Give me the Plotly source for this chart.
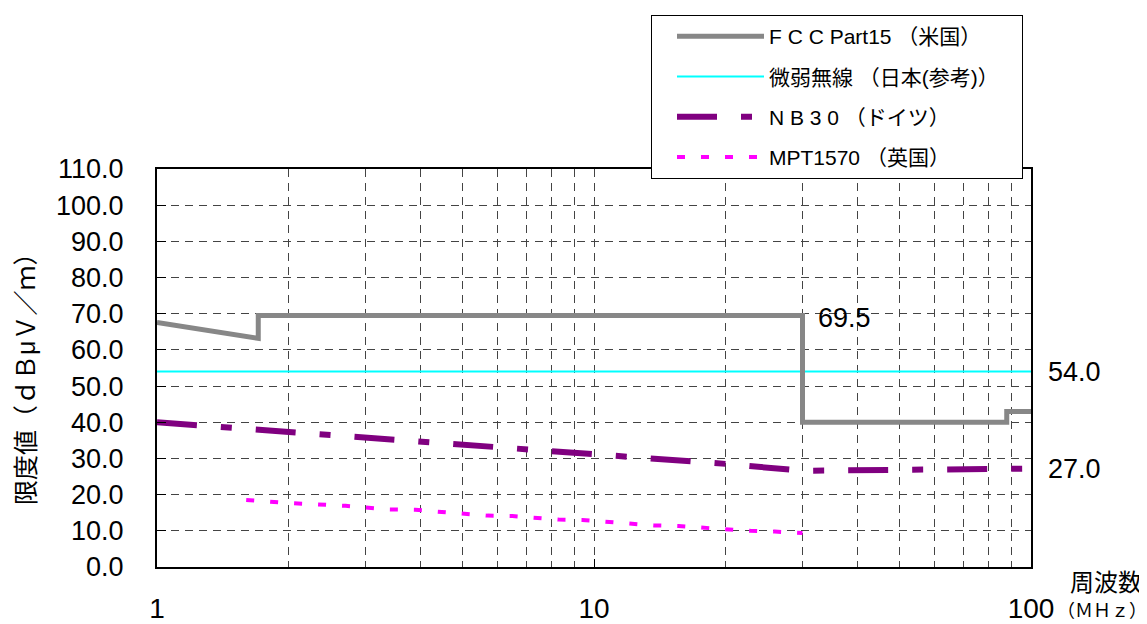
import plotly.graph_objects as go
import math

# ---- data ----
fcc_freq = [1, 1.705, 1.705, 30, 30, 88, 88, 100]
fcc_level = [67.6, 63.2, 69.5, 69.5, 40.0, 40.0, 43.0, 43.0]

jp_freq = [1, 100]
jp_level = [54.0, 54.0]

nb30_freq = [1, 2, 3, 5, 10, 20, 30, 50, 100]
nb30_level = [40.0, 37.4, 35.8, 33.8, 31.2, 28.5, 26.6, 26.8, 27.2]

mpt_freq = [1.6, 2.0, 2.7, 3.4, 3.9, 5.0, 5.7, 6.5, 8.3, 9.4, 12.2, 13.7, 15.6, 20.1, 22.8, 25.9, 30.0]
mpt_level = [18.5, 17.7, 16.9, 15.9, 15.8, 14.8, 14.2, 14.1, 13.1, 13.0, 12.0, 11.5, 11.3, 10.4, 10.0, 9.8, 9.4]

names = ["F C C Part15 （米国）", "微弱無線 （日本(参考)）" + "\u00a0" * 3, "N B 3 0 （ドイツ）", "MPT1570 （英国）"]

x_ticks = [1, 10, 100]
x_ticktext = ["1", "10", "100"]
x_minor = [2, 3, 4, 5, 6, 7, 8, 9, 20, 30, 40, 50, 60, 70, 80, 90]

FONT = "Liberation Sans, Arial, Noto Sans CJK JP, sans-serif"

# The page body adds an 8px margin, so the figure is drawn 8px smaller and
# all reference pixel positions are shifted by that offset.
OFF = 8
FW, FH = 1147 - OFF, 624 - OFF
L, R, T, B = 157 - OFF, 1031 - OFF, 169 - OFF, 567 - OFF
W, H = R - L, B - T


def px(xp):
    return (xp - OFF - L) / W


def py(yp):
    return (B - (yp - OFF)) / H


fig = go.Figure()
fig.add_trace(go.Scatter(x=jp_freq, y=jp_level, mode="lines", name=names[1],
                         line=dict(color="#00FFFF", width=2), legendgroup="b", legendrank=2))
fig.add_trace(go.Scatter(x=fcc_freq, y=fcc_level, mode="lines", name=names[0],
                         line=dict(color="#878787", width=5), legendgroup="a", legendrank=1))
fig.add_trace(go.Scatter(x=nb30_freq, y=nb30_level, mode="lines", name=names[2],
                         line=dict(color="#800080", width=6, dash="40px,24px,11px,24px"),
                         legendgroup="c", legendrank=3))
fig.add_trace(go.Scatter(x=mpt_freq, y=mpt_level, mode="lines", name=names[3],
                         line=dict(color="#FF00FF", width=4, dash="8px,16px"),
                         legendgroup="d", legendrank=4))

grid_dash = "8px,6px"
fig.update_xaxes(
    type="log", range=[0, 2], automargin=False,
    tickvals=x_ticks, ticktext=x_ticktext,
    ticks="inside", ticklen=8, tickcolor="black",
    ticklabelstandoff=15,
    tickfont=dict(family=FONT, size=28, color="black"),
    showline=True, linecolor="black", linewidth=2, mirror=True,
    showgrid=True, gridcolor="#444444", griddash=grid_dash, gridwidth=1,
    minor=dict(tickvals=x_minor, showgrid=True, gridcolor="#444444", griddash=grid_dash, gridwidth=1),
    zeroline=False,
)
fig.update_yaxes(
    range=[0, 110], dtick=10, tickformat=".1f", automargin=False,
    ticks="inside", ticklen=9, tickcolor="black",
    ticklabelstandoff=26,
    tickfont=dict(family=FONT, size=27, color="black"),
    showline=True, linecolor="black", linewidth=2, mirror=True,
    showgrid=True, gridcolor="#444444", griddash=grid_dash, gridwidth=1,
    zeroline=False,
)

num_font = dict(family=FONT, size=27, color="black")
annos = [
    dict(x=math.log10(37.4), y=68.8, xref="x", yref="y", text="69.5", showarrow=False,
         xanchor="center", yanchor="middle", font=num_font),
    dict(x=px(1074), y=54.0, xref="paper", yref="y", text="54.0", showarrow=False,
         xanchor="center", yanchor="middle", font=num_font),
    dict(x=px(1074), y=27.0, xref="paper", yref="y", text="27.0", showarrow=False,
         xanchor="center", yanchor="middle", font=num_font),
    dict(x=px(1106), y=py(582), xref="paper", yref="paper", text="周波数",
         xanchor="center", yanchor="middle", showarrow=False,
         font=dict(family=FONT, size=24, color="black")),
    dict(x=px(1055), y=py(611), xref="paper", yref="paper", text="（ＭＨｚ）",
         xanchor="left", yanchor="middle", showarrow=False,
         font=dict(family=FONT, size=18, color="black")),
    dict(x=px(26), y=py(373), xref="paper", yref="paper",
         text="限度値（ｄＢμＶ／ｍ）", textangle=-90, showarrow=False,
         xanchor="center", yanchor="middle",
         font=dict(family=FONT, size=25, color="black")),
]

fig.update_layout(
    width=FW, height=FH,
    margin=dict(l=L, r=FW - R, t=T, b=FH - B, pad=0, autoexpand=False),
    paper_bgcolor="white", plot_bgcolor="white",
    font=dict(family=FONT, color="black"),
    showlegend=True,
    legend=dict(
        x=px(651), y=py(15), xanchor="left", yanchor="top",
        bgcolor="white", bordercolor="black", borderwidth=1,
        font=dict(family=FONT, size=21, color="black"),
        itemwidth=87, indentation=20, tracegroupgap=10,
    ),
    annotations=annos,
)

fig.write_html("out.html")
